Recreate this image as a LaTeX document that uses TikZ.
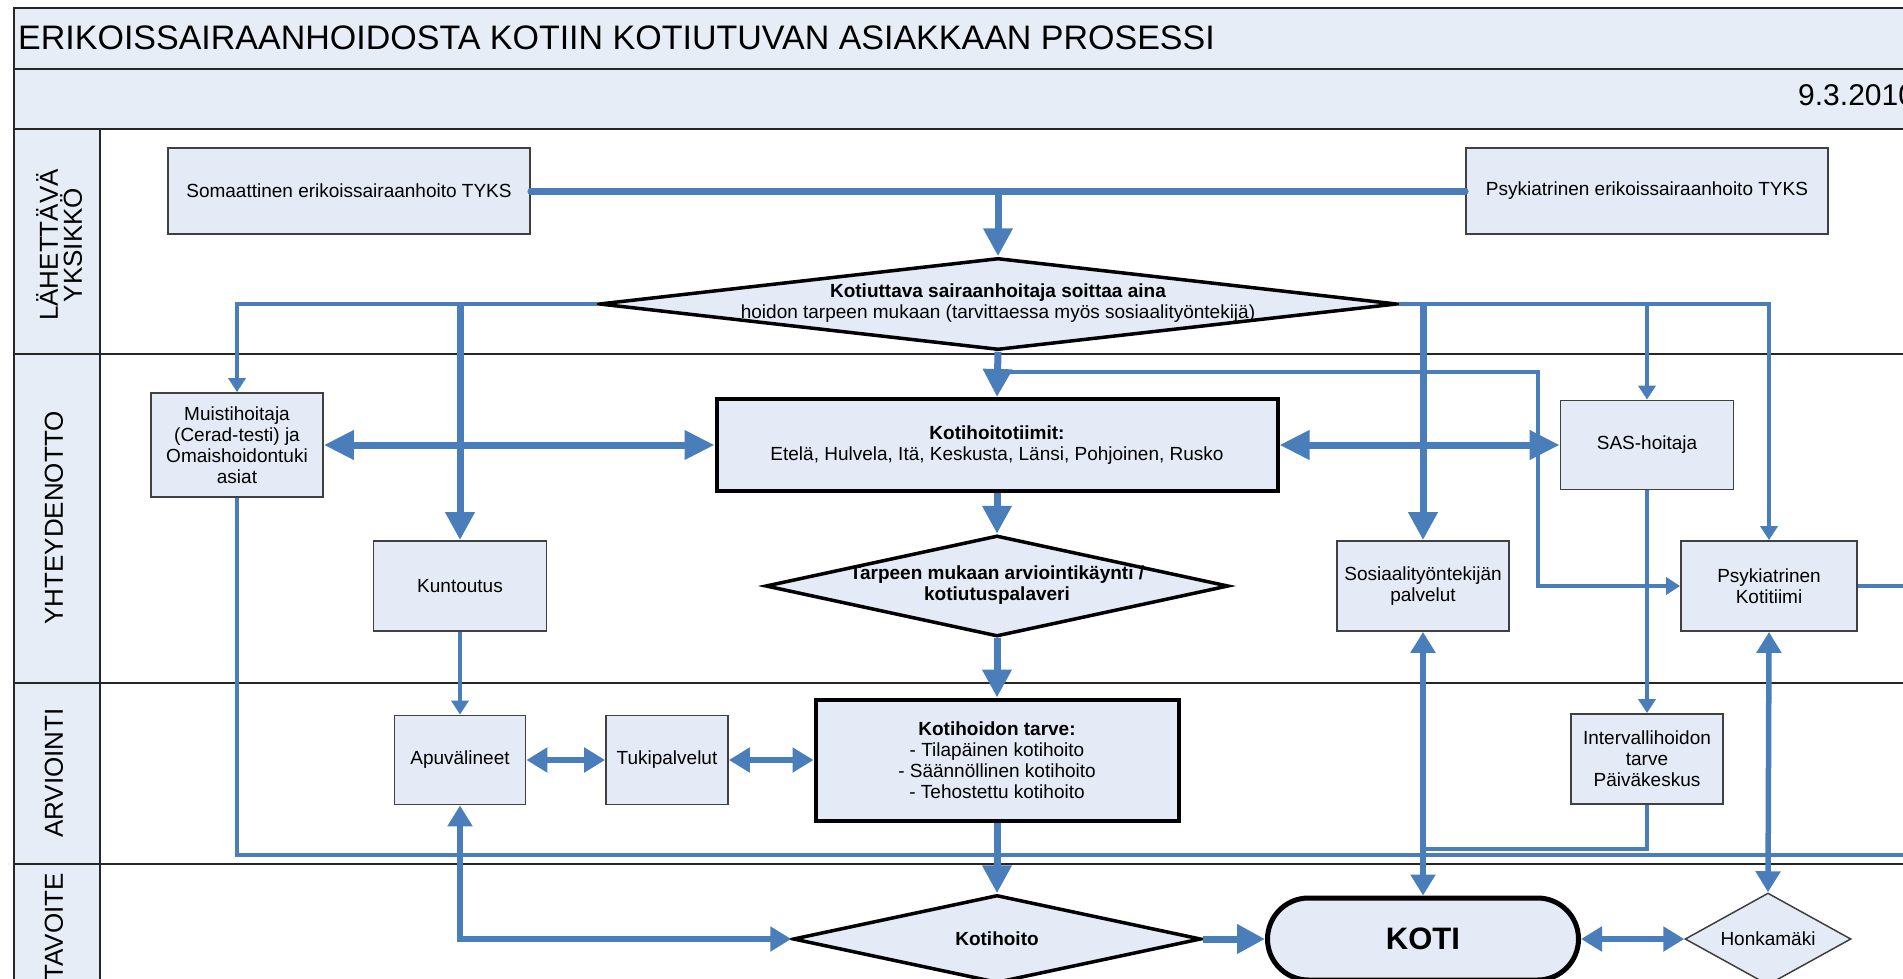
\documentclass[tikz,border=0pt]{standalone}
\usepackage{fontspec}
\setmainfont{Liberation Sans}
\usetikzlibrary{arrows.meta,shapes.geometric}
\definecolor{lineblue}{RGB}{74,126,187}
\definecolor{boxfill}{RGB}{228,235,246}
\definecolor{hdrfill}{RGB}{231,237,247}
\definecolor{boxgray}{RGB}{64,64,64}
\newcommand\fsm{\fontsize{19}{21}\selectfont}
\newcommand\fslane{\fontsize{26}{24}\selectfont}
\begin{document}
\begin{tikzpicture}[x=1pt,y=-1pt,
  box/.style={draw=boxgray,line width=1.8pt,fill=boxfill,align=center,font=\fsm,inner sep=0pt},
  bbox/.style={draw=black,line width=4pt,fill=boxfill,align=center,font=\fsm,inner sep=0pt},
  dia/.style={diamond,draw=black,line width=3.5pt,fill=boxfill,inner sep=0pt},
  txt/.style={font=\fsm,align=center,inner sep=0pt},
  lane/.style={rotate=90,font=\fslane,align=center,inner sep=0pt},
  tline/.style={draw=lineblue,line width=4.5pt},
  mline/.style={draw=lineblue,line width=5.5pt},
  kline/.style={draw=lineblue,line width=7pt},
  ta/.style={-{Triangle[length=14pt,width=17pt]}},
  ma/.style={-{Triangle[length=21pt,width=26pt]}},
  mab/.style={{Triangle[length=21pt,width=24pt]}-{Triangle[length=21pt,width=24pt]}},
  ka/.style={-{Triangle[length=28pt,width=28pt]}},
  kab/.style={{Triangle[length=30pt,width=28pt]}-{Triangle[length=30pt,width=28pt]}},
  sep/.style={draw=black!85,line width=1.6pt}
]
\useasboundingbox (0,0) rectangle (1903,979);
\clip (0,0) rectangle (1903,979);
\fill[white] (0,0) rectangle (1903,979);
% frame
\fill[hdrfill] (14,8) rectangle (1960,129);
\fill[hdrfill] (14,129) rectangle (100,995);
\draw[sep] (14,8) rectangle (1960,995);
\draw[sep] (14,69) -- (1960,69);
\draw[sep] (14,129) -- (1960,129);
\draw[sep] (14,354) -- (1960,354);
\draw[sep] (14,683) -- (1960,683);
\draw[sep] (14,864) -- (1960,864);
\draw[sep] (100,129) -- (100,995);
\node[anchor=base west,inner sep=0pt,font=\fontsize{34}{38}\selectfont] (title) at (18,50) {ERIKOISSAIRAANHOIDOSTA KOTIIN KOTIUTUVAN ASIAKKAAN PROSESSI};
\node[anchor=base west,inner sep=0pt,font=\fontsize{30}{34}\selectfont] (date) at (1798,106) {9.3.2010};
\node[lane] (l1) at (59,245) {LÄHETTÄVÄ\\YKSIKKÖ};
\node[lane] (l2) at (54,518) {YHTEYDENOTTO};
\node[lane] (l3) at (54,773) {ARVIOINTI};
\node[lane] (l4) at (54,927) {TAVOITE};
% nodes
\node[box,minimum width=362pt,minimum height=86pt] (soma) at (349,191) {Somaattinen erikoissairaanhoito TYKS};
\node[box,minimum width=362pt,minimum height=86pt] (psye) at (1647,191) {Psykiatrinen erikoissairaanhoito TYKS};
\node[dia,minimum width=798pt,minimum height=92pt] (d1) at (998,304) {};
\node[txt] (d1t) at (998,303) {\textbf{Kotiuttava sairaanhoitaja soittaa aina}\\hoidon tarpeen mukaan (tarvittaessa myös sosiaalityöntekijä)};
\node[box,minimum width=172pt,minimum height=104pt] (muisti) at (237,445) {Muistihoitaja\\(Cerad-testi) ja\\Omaishoidontuki\\asiat};
\node[bbox,minimum width=561pt,minimum height=92pt] (ktiim) at (997,445) {\textbf{Kotihoitotiimit:}\\Etelä, Hulvela, Itä, Keskusta, Länsi, Pohjoinen, Rusko};
\node[box,minimum width=173pt,minimum height=89pt] (sas) at (1647,445) {SAS-hoitaja};
\node[box,minimum width=173pt,minimum height=90pt] (kunt) at (460,586) {Kuntoutus};
\node[dia,minimum width=463pt,minimum height=101pt] (d2) at (997,586) {};
\node[txt,font=\fsm\bfseries] (d2t) at (997,585) {Tarpeen mukaan arviointikäynti /\\kotiutuspalaveri};
\node[box,minimum width=172pt,minimum height=90pt] (sos) at (1423,586) {Sosiaalityöntekijän\\palvelut};
\node[box,minimum width=176pt,minimum height=90pt] (psyk) at (1769,586) {Psykiatrinen\\Kotitiimi};
\node[box,minimum width=131pt,minimum height=89pt] (apu) at (460,760) {Apuvälineet};
\node[box,minimum width=122pt,minimum height=89pt] (tuki) at (667,760) {Tukipalvelut};
\node[bbox,minimum width=363pt,minimum height=121pt] (ktarve) at (997,760) {\textbf{Kotihoidon tarve:}\\- Tilapäinen kotihoito\\- Säännöllinen kotihoito\\- Tehostettu kotihoito};
\node[box,minimum width=152pt,minimum height=90pt] (interv) at (1647,759) {Intervallihoidon\\tarve\\Päiväkeskus};
\node[dia,minimum width=408pt,minimum height=88pt] (d3) at (997,939) {};
\node[txt,font=\fsm\bfseries] (d3t) at (997,939) {Kotihoito};
\node[draw=black,line width=5pt,fill=boxfill,rounded corners=41pt,minimum width=311pt,minimum height=82pt,inner sep=0pt,font=\fontsize{31}{33}\selectfont\bfseries] (koti) at (1423,939) {KOTI};
\node[diamond,draw=boxgray,line width=1.5pt,fill=boxfill,minimum width=166pt,minimum height=92pt,inner sep=0pt] (honka) at (1768,939) {};
\node[txt] (honkat) at (1768,939) {Honkamäki};
% connectors
\draw[kline,line cap=round] (soma.east) -- (psye.west);
\draw[kline,ka] (d1.north |- soma.east) -- (d1.north);
\draw[tline,ta] (d1.west) -| (muisti.north);
\draw[kline,ka] (kunt.north |- d1.west) -- (kunt.north);
\draw[tline,ta] (d1.east) -| (psyk.north);
\draw[kline,ka] (sos.north |- d1.east) -- (sos.north);
\draw[tline,ta] (sas.north |- d1.east) -- (sas.north);
\draw[kline,ka] (d1.south) -- (ktiim.north);
\coordinate (j1) at (998,372);
\coordinate (j2) at (1538,586);
\draw[tline,ta] (j1) -| (j2) -- (psyk.west);
\draw[kline,kab] (muisti.east) -- (ktiim.west);
\draw[kline,kab] (ktiim.east) -- (sas.west);
\draw[kline,ka] (ktiim.south) -- (d2.north);
\draw[kline,ka] (d2.south) -- (ktarve.north);
\draw[kline,ka] (ktarve.south) -- (d3.north);
\draw[tline,ta] (kunt.south) -- (apu.north);
\draw[tline,ta] (sas.south) -- (interv.north);
\draw[mline,mab] (apu.east) -- (tuki.west);
\draw[mline,mab] (tuki.east) -- (ktarve.west);
\draw[mline,mab] (apu.south) |- (d3.west);
\draw[kline,ka] (d3.east) -- (koti.west);
\draw[mline,mab] (koti.east) -- (honka.west);
\draw[mline,mab] (sos.south) -- (koti.north);
\draw[mline,mab] (psyk.south) -- (honka.north);
\coordinate (rb) at (1940,855);
\draw[tline] (muisti.south) |- (rb) |- (psyk.east);
\coordinate (ij) at (1423,849);
\draw[tline] (interv.south) |- (ij);
\end{tikzpicture}
\end{document}
